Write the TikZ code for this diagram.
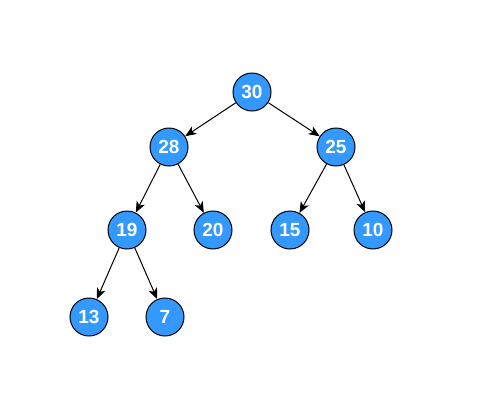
\documentclass[tikz,border=0pt]{standalone}
\usepackage{fontspec}
\setmainfont{Liberation Sans}
\usetikzlibrary{arrows.meta}
\definecolor{nodeblue}{HTML}{3399FF}
\tikzset{
  hnode/.style={circle, draw=black, line width=1pt, fill=nodeblue, minimum size=38pt, inner sep=0pt,
    text=white, font=\fontsize{19}{19}\selectfont\bfseries},
  edge/.style={draw=black, line width=1pt, -{Stealth[length=11pt,width=9pt,inset=3pt]}}
}
\begin{document}
\begin{tikzpicture}[x=1pt,y=-1pt]
\useasboundingbox (0,0) rectangle (496,410);
\node[hnode] (n30) at (252,92) {30};
\node[hnode] (n28) at (169,147) {28};
\node[hnode] (n25) at (336,147) {25};
\node[hnode] (n19) at (127,230) {19};
\node[hnode] (n20) at (213,230) {20};
\node[hnode] (n15) at (290,230) {15};
\node[hnode] (n10) at (373,230) {10};
\node[hnode] (n13) at (89,317) {13};
\node[hnode] (n7) at (165,317) {7};
\draw[edge] (n30) -- (n28);
\draw[edge] (n30) -- (n25);
\draw[edge] (n28) -- (n19);
\draw[edge] (n28) -- (n20);
\draw[edge] (n25) -- (n15);
\draw[edge] (n25) -- (n10);
\draw[edge] (n19) -- (n13);
\draw[edge] (n19) -- (n7);
\end{tikzpicture}
\end{document}
